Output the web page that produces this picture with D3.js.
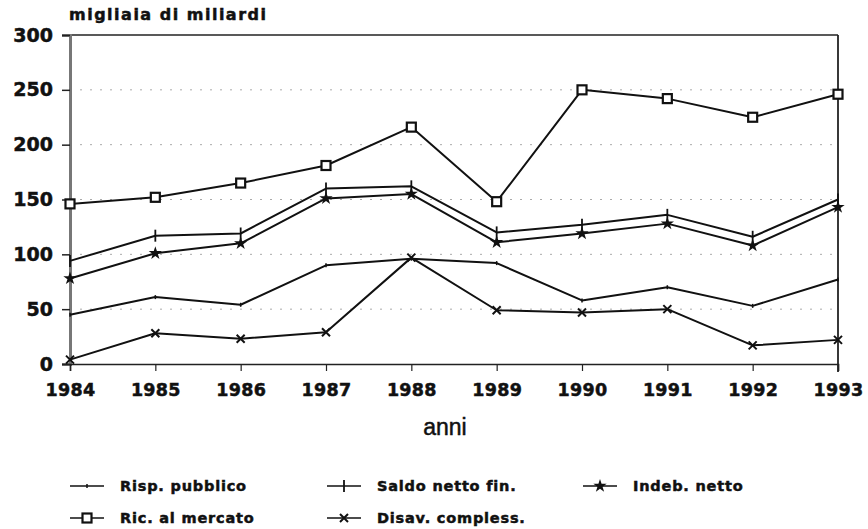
<!DOCTYPE html>
<html>
<head>
<meta charset="utf-8">
<script src="https://cdn.jsdelivr.net/npm/d3@7"></script>
<style>
  body { margin: 0; background: #fff; }
  text { fill: #111; }
  .heavy { font-family: "DejaVu Sans"; font-weight: bold; stroke: #111; stroke-width: 0.5px; }
</style>
</head>
<body>
<svg id="chart"></svg>
<script>
// data
var years = [1984, 1985, 1986, 1987, 1988, 1989, 1990, 1991, 1992, 1993];
var rispPubblico = [45, 61, 54, 90, 96, 92, 58, 70, 53, 77];
var saldoNetto = [94, 117, 119, 160, 162, 120, 127, 136, 116, 150];
var indebNetto = [78, 101, 110, 151, 155, 111, 119, 128, 108, 143];
var ricMercato = [146, 152, 165, 181, 216, 148, 250, 242, 225, 246];
var disavComplesso = [4, 28, 23, 29, 97, 49, 47, 50, 17, 22];
var yTicks = [0, 50, 100, 150, 200, 250, 300];

var series = [
  { name: "Risp. pubblico", values: rispPubblico, mark: "dot" },
  { name: "Saldo netto fin.", values: saldoNetto, mark: "plus" },
  { name: "Indeb. netto", values: indebNetto, mark: "star" },
  { name: "Ric. al mercato", values: ricMercato, mark: "square" },
  { name: "Disav. compless.", values: disavComplesso, mark: "cross" }
];

var W = 868, H = 529;
var svg = d3.select("#chart").attr("width", W).attr("height", H);

var x = d3.scalePoint().domain(years).range([70, 838]);
var y = d3.scaleLinear().domain([0, 300]).range([364, 35]);

// dotted grid
svg.append("g")
  .selectAll("line")
  .data(yTicks.filter(d => d > 0 && d < 300))
  .enter().append("line")
  .attr("x1", 70).attr("x2", 838)
  .attr("y1", d => y(d)).attr("y2", d => y(d))
  .attr("stroke", "#aaa")
  .attr("stroke-width", 1)
  .attr("stroke-dasharray", "2,8");

// frame: top and right
svg.append("line").attr("x1", 70).attr("x2", 838).attr("y1", y(300)).attr("y2", y(300))
  .attr("stroke", "#222").attr("stroke-width", 1.6);
svg.append("line").attr("x1", 838).attr("x2", 838).attr("y1", y(300)).attr("y2", y(0) + 8)
  .attr("stroke", "#222").attr("stroke-width", 1.8);

// y axis
var yAxis = svg.append("g")
  .attr("transform", "translate(70,0)")
  .call(d3.axisLeft(y).tickValues(yTicks).tickSize(8).tickPadding(9));
yAxis.select(".domain").attr("stroke", "#777").attr("stroke-width", 3);
yAxis.selectAll(".tick line").attr("stroke", "#222").attr("stroke-width", 1.5);
yAxis.selectAll("text")
  .attr("class", "heavy")
  .style("font-size", "19px")
  .attr("fill", "#111");

// x axis
var xAxis = svg.append("g")
  .attr("transform", "translate(0," + y(0) + ")")
  .call(d3.axisBottom(x).tickSize(7).tickPadding(13));
xAxis.select(".domain").attr("stroke", "#222").attr("stroke-width", 1.6);
xAxis.selectAll(".tick line").attr("stroke", "#222").attr("stroke-width", 1.2);
xAxis.selectAll("text")
  .attr("class", "heavy")
  .style("font-size", "17.5px")
  .style("letter-spacing", "0.3px")
  .attr("fill", "#111");

// titles
svg.append("text")
  .attr("class", "heavy")
  .attr("x", 69).attr("y", 20)
  .style("font-size", "16px")
  .style("letter-spacing", "1.5px")
  .text("migliaia di miliardi");

svg.append("text")
  .attr("x", 445).attr("y", 435)
  .attr("text-anchor", "middle")
  .style("font-family", "Liberation Sans")
  .style("font-size", "23px")
  .style("stroke", "#111").style("stroke-width", "0.5px")
  .text("anni");

// markers
function drawMark(g, type, cx, cy) {
  if (type === "dot") {
    g.append("line").attr("x1", cx).attr("x2", cx).attr("y1", cy - 2).attr("y2", cy + 2)
      .attr("stroke", "#111").attr("stroke-width", 1.5);
  } else if (type === "plus") {
    g.append("path").attr("d", "M" + cx + "," + (cy - 6) + "V" + (cy + 6))
      .attr("stroke", "#111").attr("stroke-width", 1.8);
  } else if (type === "star") {
    g.append("path").attr("transform", "translate(" + cx + "," + cy + ")")
      .attr("d", d3.symbol().type(d3.symbolStar).size(55)())
      .attr("fill", "#111");
  } else if (type === "square") {
    g.append("rect").attr("x", cx - 4.5).attr("y", cy - 4.5).attr("width", 9).attr("height", 9)
      .attr("fill", "#fff").attr("stroke", "#111").attr("stroke-width", 2.2);
  } else if (type === "cross") {
    g.append("path").attr("transform", "translate(" + cx + "," + cy + ")")
      .attr("d", "M-4,-4L4,4M-4,4L4,-4")
      .attr("stroke", "#111").attr("stroke-width", 2);
  }
}

var line = d3.line()
  .x((d, i) => x(years[i]))
  .y(d => y(d));

series.forEach(function (s) {
  var g = svg.append("g");
  g.append("path")
    .datum(s.values)
    .attr("fill", "none")
    .attr("stroke", "#111")
    .attr("stroke-width", 2)
    .attr("stroke-linejoin", "round")
    .attr("d", line);
  s.values.forEach(function (v, i) {
    drawMark(g, s.mark, x(years[i]), y(v));
  });
});

// legend
var legendPos = [
  [70, 486], [327, 486], [583, 486],
  [70, 518], [327, 518]
];
series.forEach(function (s, j) {
  var lx = legendPos[j][0], ly = legendPos[j][1];
  var g = svg.append("g");
  g.append("line").attr("x1", lx).attr("x2", lx + 34).attr("y1", ly).attr("y2", ly)
    .attr("stroke", "#111").attr("stroke-width", 1.4);
  drawMark(g, s.mark, lx + 17, ly);
  g.append("text")
    .attr("class", "heavy")
    .attr("x", lx + 50).attr("y", ly + 5)
    .style("font-size", "14.5px")
    .style("letter-spacing", "0.8px")
    .text(s.name);
});
</script>
</body>
</html>
